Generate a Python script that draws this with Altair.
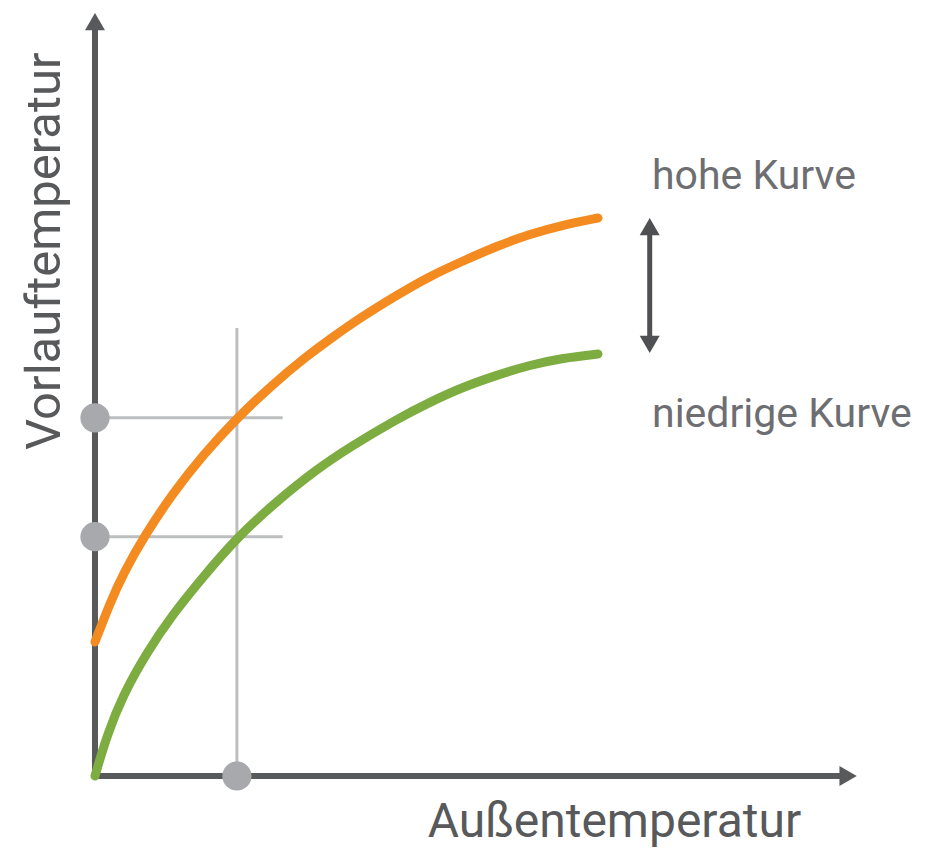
import altair as alt
import pandas as pd

# ---- data (arbitrary units: origin = 0, arrow tips ~ 100) ----
high_x = [0, 1.97, 3.67, 6.55, 10.22, 14.15, 18.61, 23.33, 27.79, 30.80, 35.12, 39.58,
          43.91, 48.23, 52.69, 57.01, 61.34, 65.92]
high_y = [17.59, 22.70, 26.51, 31.63, 37.14, 42.13, 46.98, 51.44, 55.12, 57.35, 60.37, 63.12,
          65.62, 67.59, 69.55, 71.13, 72.31, 73.23]
low_x = [0, 1.57, 3.67, 6.82, 10.22, 14.15, 18.61, 23.85, 29.10, 33.42, 39.58, 43.91,
         48.23, 52.69, 57.01, 61.34, 65.92]
low_y = [0, 5.38, 10.63, 16.27, 21.26, 26.12, 31.30, 36.09, 40.29, 43.18, 46.85, 49.08,
         51.05, 52.62, 53.94, 54.86, 55.38]

outside_temp = 18.6          # chosen outdoor temperature
flow_levels = [47.0, 31.4]   # resulting flow temperatures (high, low)
cross_top = 58.8
cross_right = 24.6

axis_end = [98.7, 99.0]      # x-arrow, y-arrow head centres
shift_x = 72.7
shift_ends = [56.65, 72.09]

labels = ["hohe Kurve", "niedrige Kurve"]
label_pos = [(73.0, 77.0), (73.0, 45.8)]
x_title = "Außentemperatur"
y_title = "Vorlauftemperatur"

W, H = 909, 840
X_DOM = [-11.40, 107.73]
Y_DOM = [-9.45, 100.79]

AX = "#58595b"
GRID = "#bcbec0"
DOT = "#a7a9ac"
ORANGE = "#f38b20"
GREEN = "#7dac41"
TXT = "#6d6e71"

xs = alt.Scale(domain=X_DOM, nice=False, zero=False)
ys = alt.Scale(domain=Y_DOM, nice=False, zero=False)


def X(f="x"):
    return alt.X(f"{f}:Q", scale=xs, axis=None)


def Y(f="y"):
    return alt.Y(f"{f}:Q", scale=ys, axis=None)


# axes lines
axes_df = pd.DataFrame({
    "x": [0, 0], "y": [0, 0],
    "x2": [axis_end[0], 0], "y2": [0, axis_end[1]],
})
axes = alt.Chart(axes_df).mark_rule(color=AX, strokeWidth=6).encode(
    x=X(), y=Y(), x2="x2:Q", y2="y2:Q")

arrow_up_df = pd.DataFrame({"x": [0], "y": [axis_end[1]]})
arrow_up = alt.Chart(arrow_up_df).mark_point(
    shape="triangle-up", size=400, filled=True, color=AX, opacity=1, strokeWidth=0
).encode(x=X(), y=Y())
arrow_right_df = pd.DataFrame({"x": [axis_end[0]], "y": [0]})
arrow_right = alt.Chart(arrow_right_df).mark_point(
    shape="triangle-right", size=400, filled=True, color=AX, opacity=1, strokeWidth=0
).encode(x=X(), y=Y())

# crosshair
cross_df = pd.DataFrame({
    "x": [outside_temp, 0, 0],
    "y": [0, flow_levels[0], flow_levels[1]],
    "x2": [outside_temp, cross_right, cross_right],
    "y2": [cross_top, flow_levels[0], flow_levels[1]],
})
cross = alt.Chart(cross_df).mark_rule(color=GRID, strokeWidth=3).encode(
    x=X(), y=Y(), x2="x2:Q", y2="y2:Q")

# curves
curve_df = pd.DataFrame({
    "x": high_x + low_x,
    "y": high_y + low_y,
    "c": ["hoch"] * len(high_x) + ["niedrig"] * len(low_x),
})
curves = alt.Chart(curve_df).mark_line(
    strokeWidth=9, strokeCap="round", interpolate="basis"
).encode(
    x=X(), y=Y(), detail="c:N",
    color=alt.Color("c:N", scale=alt.Scale(domain=["hoch", "niedrig"], range=[ORANGE, GREEN]), legend=None),
)

# dots
dots_df = pd.DataFrame({
    "x": [0, 0, outside_temp],
    "y": [flow_levels[0], flow_levels[1], 0],
})
dots = alt.Chart(dots_df).mark_circle(size=855, color=DOT, opacity=1).encode(x=X(), y=Y())

# double arrow
shift_df = pd.DataFrame({"x": [shift_x], "y": [shift_ends[0]], "y2": [shift_ends[1]]})
shift_line = alt.Chart(shift_df).mark_rule(color="#4f5053", strokeWidth=5).encode(
    x=X(), y=Y(), y2="y2:Q")
heads_df = pd.DataFrame({
    "x": [shift_x, shift_x], "y": [shift_ends[1], shift_ends[0]],
    "s": ["triangle-up", "triangle-down"],
})
heads = alt.Chart(heads_df).mark_point(
    size=400, filled=True, color="#4f5053", opacity=1, strokeWidth=0
).encode(
    x=X(), y=Y(),
    shape=alt.Shape("s:N", scale=alt.Scale(domain=["triangle-up", "triangle-down"],
                                           range=["triangle-up", "triangle-down"]), legend=None),
)

# labels
lab_df = pd.DataFrame({
    "x": [p[0] for p in label_pos], "y": [p[1] for p in label_pos], "t": labels,
})
lab = alt.Chart(lab_df).mark_text(
    align="left", baseline="alphabetic", font="Roboto", fontSize=41, color=TXT
).encode(x=X(), y=Y(), text="t:N")

xt_df = pd.DataFrame({"x": [43.6], "y": [-8.0], "t": [x_title]})
xt = alt.Chart(xt_df).mark_text(
    align="left", baseline="alphabetic", font="Roboto", fontSize=48, color=AX
).encode(x=X(), y=Y(), text="t:N")

yt_df = pd.DataFrame({"x": [-4.59], "y": [42.78], "t": [y_title]})
yt = alt.Chart(yt_df).mark_text(
    align="left", baseline="alphabetic", font="Roboto", fontSize=49, color=AX, angle=270
).encode(x=X(), y=Y(), text="t:N")

chart = alt.layer(
    axes, arrow_up, arrow_right, cross, curves, dots, shift_line, heads, lab, xt, yt
).properties(
    width=W, height=H, padding=0, autosize=alt.AutoSizeParams(type="none"),
    background="white",
).configure_view(stroke=None)

chart.save("out.html", embed_options={"renderer": "svg", "actions": False})
